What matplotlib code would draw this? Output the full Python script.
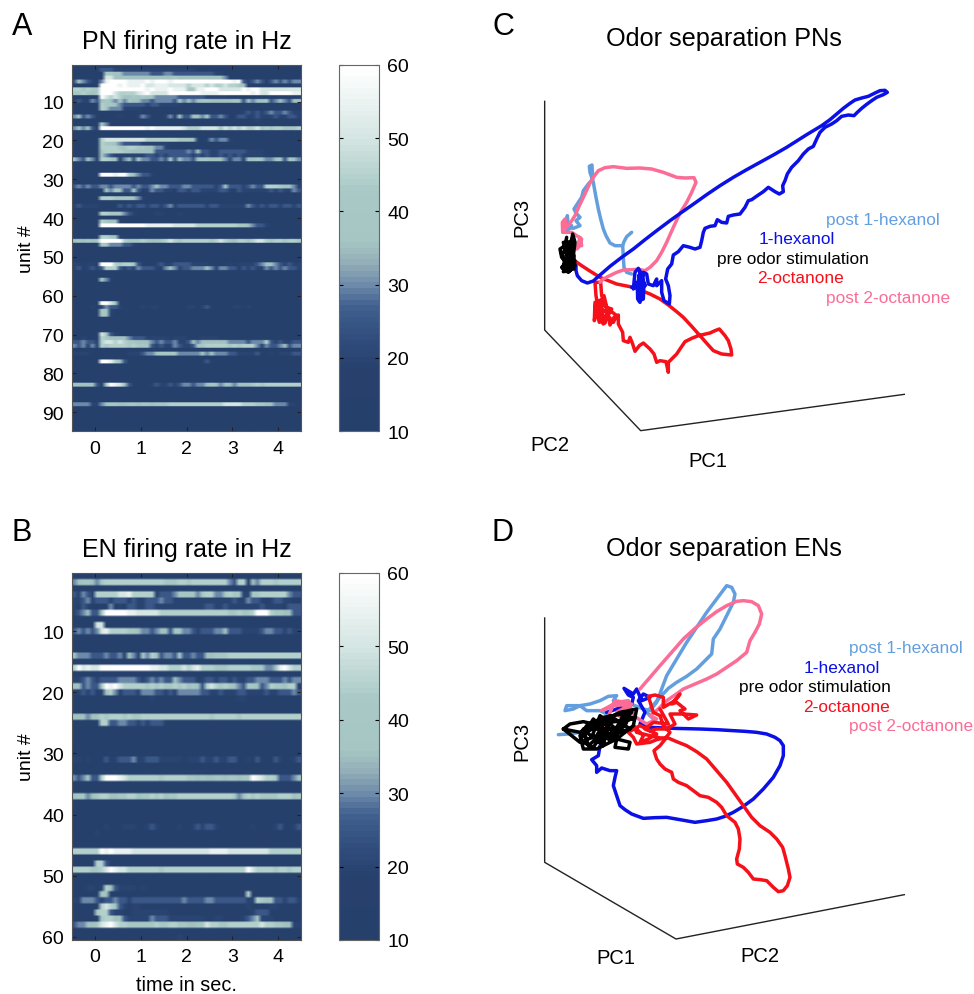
import numpy as np
import matplotlib
matplotlib.use("Agg")
import matplotlib.pyplot as plt
from matplotlib.colors import LinearSegmentedColormap

plt.rcParams["font.family"] = ["Liberation Sans", "DejaVu Sans"]

W, H = 974, 995

# colormap
cmap_rates = [10, 18, 22, 27, 30, 33, 36, 43, 50, 60]
cmap_colors = ["#26406c", "#27406c", "#2f4b7b", "#41608f", "#6f8cab",
               "#94afb9", "#a6c6c3", "#a9c9c6", "#d3e5e2", "#ffffff"]

# heat maps: unit -> one hex digit per 0.1 s bin from -0.5 s, rate = 10 + 5 * digit
pn_rows = {
    2: "00000033322222222222222222211111",
    3: "0000000665544444433344333333333220000000000000000",
    4: "0000000885555555555555655555555554000000000000000",
    5: "35432049aaaa9999a9aaa9aaaaaaaaaaaaa9a3234313434344",
    6: "000000aaaa9a999a889998888788878778776500000000000",
    7: "776766aaaaaaaaaa9a999a9996699aaa88888a9aa888888888",
    8: "667656aaa8777789a8888aaaaaaa9999aaaaaaa9a88aaaaa99",
    9: "000000a87875565655444443333332222210000000000000",
    10: "23224356546465544344443645456655555663545563454355",
    11: "000000766543333323322222100000000000000000000",
    12: "00000076444222200000000",
    13: "00000000000000000000000000000000000002323234334322",
    14: "45343000012110243111241533554633430133223222322332",
    15: "00000000000000000000000000000000000000012101",
    16: "00000064100000",
    17: "454530aaaaaaaaaa9a99999987778888687878778676776667",
    20: "00000078888888887777777666520243442100000000",
    21: "000000766543333222222111",
    22: "0000007777667766554421111111",
    23: "100110677776655555333333343533223333332222000",
    24: "00000064322222223323233333232322323232222200",
    25: "54354177650453644334363544356655542442556544563654",
    29: "000000aaa9aa75433201",
    30: "00000000000000000000001",
    32: "34343344344443433454433344333332353332343377765542",
    33: "00000005465336302433221332332222332132222223232243",
    35: "0000007776666542100",
    37: "23222200003232332332342333333233222222432323323323",
    39: "00000077666432100122011211",
    41: "000000765521",
    42: "000000aaaaaaaaaa999999888887777777776654332100",
    45: "0000007765210",
    46: "565656aaaaa766676556787677777767876577678876776776",
    47: "000000664443321",
    51: "0000000000000000000000001",
    52: "221220aaa76776311123223333222211112122223455432322",
    53: "23123237773232433321454233444542443313232243434332",
    56: "00000064211111111111111",
    62: "000000aa85100",
    63: "11002024332100121221111012202311110221201111",
    64: "00000066210",
    65: "00000066200",
    70: "0000008632100",
    71: "11211076555543332222212221112222111",
    72: "33433278878766555434334223545555554444344473232233",
    73: "43424276777767666323224322366777776767774243345344",
    75: "22221000001122234456666444445454443322223112122233",
    77: "000000aa975310000000000000000300000",
    83: "55555306a98531010232232344344565455455567677777777",
    88: "44442245665566566566677777777777788887776655444220",
}

en_rows = {
    2: "45665467777777777777666776777777774377054777677777",
    3: "11000000000000000000000000000000000000111",
    4: "32432777778897777723334666646774467662266777777433",
    5: "22342333233323223334332222222222222322433212332211",
    6: "21321111412133223322222222222332232222222322221333",
    7: "2345336aaaaa9988888777777777777777667667aaa7665533",
    8: "00000011100000000000",
    9: "00000880000000000",
    10: "34343489777766544345536644323334453332222344332322",
    14: "54443334334254264753443633433556667777777777777777",
    15: "00000000000000000000",
    16: "7a8988aaaaaaaaaaa99887778789777666777776664459a877",
    18: "22343233334444323434335433312332332322334443334344",
    19: "5534336a9a877777676766767565378767654366534766577",
    20: "22323025741333244433232444443322322233222232233343",
    21: "00000001100110111211001111111101111122111111",
    24: "55545576777676677777777777777767777767777777777777",
    25: "00000077334433232333110111110011100000",
    31: "22120013123334223332222212223223223311213111321123",
    34: "4346337aaa98777777767777766565566566566a9877633345",
    37: "56645677556677566767566777777777777645767666677756",
    38: "00000000000111000000000000001",
    42: "10111002111222112321111211232332111111121111231123",
    43: "0000020000000",
    46: "777777a9a99998888888888888888899998888888887777777",
    48: "0000077300000",
    49: "77776678a98877777776777777777777777777a87777677677",
    51: "00000000000000000000000000",
    52: "11122127532222121111111111111111111",
    53: "000000650000000000000000000000000000007",
    54: "22444323343323333333333343333443333333227655332332",
    55: "1111117875321221111111111111111111111121111221",
    56: "00000677322112222222211111111111111111123331111",
    57: "00000067755322222433322222222112211112345222111",
    58: "34455689a877666666766776655668776677777778776655222",
    59: "0000001111000000000000000000000000",
    60: "0000000000000000000000021000000",
}

# PN trajectories, projected onto the page
pn_hex = [(228, 590), (228, 605), (232, 620), (245, 635), (262, 642), (280, 636), (300, 618), (330, 592), (365, 565), (400, 540), (435, 512), (470, 485), (510, 455), (545, 430), (585, 402), (620, 377), (660, 350), (700, 325), (740, 302), (780, 280), (820, 258), (860, 235), (890, 216), (920, 197), (945, 182), (965, 170), (990, 152), (1010, 135), (1030, 118), (1050, 103), (1065, 93), (1085, 87), (1105, 82), (1125, 72), (1140, 65), (1155, 64), (1162, 70), (1150, 77), (1130, 85), (1115, 95), (1100, 106), (1085, 118), (1072, 130), (1062, 140), (1045, 138), (1025, 142), (1010, 155), (995, 165), (975, 175), (960, 190), (950, 210), (940, 232), (925, 240), (910, 255), (895, 275), (875, 295), (862, 315), (855, 335), (848, 350), (850, 368), (838, 375), (825, 368), (805, 355), (790, 368), (775, 378), (755, 392), (745, 395), (735, 415), (720, 435), (700, 438), (685, 442), (680, 462), (665, 460), (652, 452), (645, 470), (630, 472), (615, 478), (610, 490), (605, 515), (600, 535), (585, 540), (570, 535), (550, 530), (535, 548), (520, 558), (515, 585), (503, 600), (497, 630), (505, 650), (510, 680), (508, 705), (492, 695), (485, 670), (485, 635), (470, 650), (470, 630), (460, 650), (445, 645), (440, 615), (430, 610), (425, 650), (420, 700), (413, 690), (412, 650), (420, 610), (432, 640), (430, 690), (418, 695), (412, 640), (400, 660), (405, 610), (415, 598), (428, 620), (424, 680), (416, 620), (436, 650), (395, 655)]
pn_oct = [(228, 578), (245, 590), (265, 603), (300, 625), (350, 645), (400, 655), (450, 675), (480, 690), (505, 708), (530, 728), (550, 745), (575, 772), (600, 800), (622, 825), (640, 845), (665, 855), (695, 858), (693, 840), (685, 815), (675, 800), (658, 780), (645, 785), (630, 792), (595, 800), (575, 808), (555, 818), (540, 840), (530, 855), (515, 870), (505, 880), (505, 910), (498, 878), (480, 875), (470, 880), (462, 855), (450, 840), (430, 822), (418, 830), (405, 847), (398, 825), (390, 805), (385, 820), (370, 815), (368, 790), (355, 765), (355, 738), (342, 745), (330, 768), (322, 730), (315, 762), (305, 725), (298, 760), (288, 720), (283, 755), (285, 700), (310, 690), (300, 715), (325, 735), (312, 680), (295, 720), (288, 680), (285, 640), (302, 640), (305, 680), (320, 715), (335, 720), (310, 765), (295, 745), (292, 700), (312, 748), (328, 745), (340, 760), (350, 740), (306, 705), (300, 735), (284, 712)]
pn_post_hex = [(395, 490), (380, 503), (372, 518), (368, 530), (345, 530), (330, 522), (318, 500), (310, 480), (302, 450), (295, 420), (287, 380), (280, 340), (270, 310), (268, 292), (276, 288), (278, 330), (265, 345), (250, 365), (245, 385), (235, 400), (222, 420), (228, 432), (240, 445), (228, 455), (240, 470), (220, 478), (205, 475), (202, 440), (198, 490), (215, 470)]
pn_post_hex_tail = [(368, 530), (370, 565), (372, 595), (380, 610), (395, 615)]
pn_post_oct = [(245, 530), (240, 505), (230, 540), (240, 530), (245, 510), (215, 490), (188, 490), (187, 460), (195, 450), (197, 478), (212, 460), (225, 440), (237, 412), (250, 385), (270, 342), (282, 322), (295, 305), (315, 296), (340, 293), (380, 298), (420, 297), (455, 300), (490, 310), (530, 325), (555, 327), (582, 326), (588, 340), (575, 370), (560, 400), (540, 432), (520, 475), (500, 520), (485, 550), (470, 575), (450, 595), (435, 605), (415, 601), (395, 602), (370, 603), (350, 610), (325, 622), (310, 630), (300, 640)]
pn_pre = [(200, 505), (195, 530), (180, 540), (185, 565), (195, 575), (190, 600), (205, 610), (225, 590), (220, 560), (225, 520), (218, 495), (212, 530), (200, 515), (205, 560), (190, 590), (215, 600), (205, 575), (215, 545), (190, 550), (205, 530), (222, 560), (215, 590), (195, 605), (185, 595), (210, 570), (220, 530), (190, 520), (200, 560), (225, 575), (210, 605), (190, 608), (205, 590), (218, 570), (198, 545), (210, 520), (220, 505), (212, 560), (195, 585), (184, 550), (205, 600), (222, 600), (200, 570)]

# EN trajectories
en_hex = [(300, 530), (295, 560), (275, 572), (290, 590), (290, 610), (305, 597), (330, 605), (350, 605), (345, 625), (340, 650), (350, 680), (360, 710), (375, 722), (395, 735), (430, 748), (465, 746), (500, 745), (540, 752), (585, 760), (620, 755), (650, 750), (675, 742), (700, 730), (730, 712), (760, 690), (790, 660), (820, 625), (840, 590), (850, 560), (850, 530), (840, 515), (825, 505), (800, 495), (770, 490), (735, 487), (700, 485), (650, 482), (600, 480), (520, 478), (450, 475), (420, 465), (435, 430), (415, 395), (430, 375), (450, 385), (425, 395), (410, 360), (400, 375), (372, 358), (385, 378), (400, 385), (395, 405), (350, 420), (320, 430)]
en_oct = [(500, 505), (530, 518), (560, 530), (590, 548), (620, 570), (650, 605), (680, 640), (705, 675), (730, 710), (755, 745), (780, 770), (810, 790), (830, 810), (848, 835), (855, 860), (865, 900), (870, 925), (862, 950), (850, 965), (835, 968), (820, 955), (800, 935), (780, 932), (760, 930), (745, 910), (730, 895), (712, 885), (710, 870), (718, 840), (720, 810), (715, 780), (705, 760), (680, 740), (665, 715), (650, 700), (625, 685), (600, 680), (580, 665), (560, 650), (535, 640), (520, 630), (515, 610), (495, 600), (480, 585), (470, 570), (462, 545), (480, 530), (500, 505), (470, 512), (450, 520), (410, 525), (400, 505), (385, 490), (405, 478), (420, 470), (450, 485), (470, 480), (500, 480), (525, 465), (510, 435), (550, 435), (590, 438), (565, 450), (540, 425), (555, 420), (530, 400), (515, 405), (540, 375), (525, 395), (490, 415), (490, 385), (465, 378), (445, 382), (460, 430), (480, 440), (490, 470), (510, 490), (495, 510), (450, 500), (410, 490), (400, 470), (430, 500), (420, 520), (445, 510), (470, 495), (435, 480), (460, 460), (505, 465), (480, 420)]
en_post_hex = [(175, 497), (205, 495), (240, 490), (290, 470), (330, 440), (300, 425), (260, 425), (240, 410), (220, 420), (195, 425), (200, 410), (240, 410), (270, 405), (300, 395), (325, 382), (350, 380), (340, 395), (380, 400), (430, 420), (450, 425), (470, 400), (485, 360), (500, 320), (530, 270), (560, 220), (590, 175), (620, 130), (650, 90), (680, 50), (695, 55), (705, 75), (700, 100), (680, 140), (660, 180), (640, 210), (635, 255), (610, 280), (590, 300), (560, 322), (530, 340), (505, 358), (480, 385), (440, 430), (460, 450)]
en_post_oct = [(420, 360), (450, 325), (480, 290), (515, 250), (550, 210), (585, 178), (620, 150), (650, 128), (680, 110), (710, 97), (730, 95), (755, 98), (775, 110), (785, 135), (778, 165), (765, 190), (750, 215), (740, 250), (710, 275), (680, 295), (650, 315), (620, 330), (585, 345), (550, 360), (525, 378), (500, 395), (475, 420), (450, 440), (470, 450), (440, 465), (400, 440), (385, 395), (350, 400), (305, 425), (340, 410), (395, 405), (350, 430), (380, 470), (320, 480), (300, 500), (345, 395), (385, 415)]
en_pre = [(190, 480), (210, 465), (250, 458), (280, 465), (240, 490), (190, 480), (240, 520), (290, 500), (320, 450), (360, 430), (410, 420), (400, 470), (350, 510), (390, 520), (385, 540), (345, 535), (350, 510), (290, 540), (250, 540), (240, 500), (260, 470), (300, 450), (350, 500), (370, 430), (400, 450), (330, 460), (280, 535), (240, 515), (280, 450), (340, 510), (380, 460), (300, 520), (340, 440), (260, 490), (310, 530), (330, 440), (390, 480), (320, 500), (275, 505), (300, 440), (360, 490), (305, 495), (265, 530), (250, 480), (345, 480), (375, 445), (330, 515), (285, 470), (310, 445), (395, 430), (355, 465), (405, 445)]

pn_axis = [(134, 97), (134, 783), (422, 1085), (1213, 976)]
en_axis = [(134, 147), (134, 880), (528, 1110), (1213, 977)]

light_blue = "#639fdf"
blue = "#0a10e6"
red = "#f5101a"
pink = "#fb6c96"


def rect(left, top, right, bottom):
    return [left / W, 1 - bottom / H, (right - left) / W, (bottom - top) / H]


def rows_to_matrix(rows, n_units):
    m = np.zeros((n_units, 50))
    for unit, digits in rows.items():
        for i, c in enumerate(digits[:50]):
            m[unit - 1, i] = 10 + 5 * int(c, 16)
    # repeat each row so the smoothing only softens its edges
    return np.repeat(m, 3, axis=0)


cm = LinearSegmentedColormap.from_list(
    "firing", [((r - 10) / 50, c) for r, c in zip(cmap_rates, cmap_colors)], N=64)

fig = plt.figure(figsize=(W / 100, H / 100), dpi=100)


def heat_panel(rows, n_units, top, bottom, ymax, yticks, title):
    ax = fig.add_axes(rect(72.3, top, 300.7, bottom))
    im = ax.imshow(rows_to_matrix(rows, n_units), cmap=cm, vmin=10, vmax=60, aspect="auto",
                   extent=[-0.5, 4.5, n_units + 0.5, 0.5], interpolation="bilinear",
                   interpolation_stage="rgba")
    ax.set_xlim(-0.5, 4.5)
    ax.set_ylim(ymax, 0.5)
    ax.set_xticks([0, 1, 2, 3, 4])
    ax.set_yticks(yticks)
    ax.tick_params(direction="in", top=True, right=True, length=3, width=0.8,
                   labelsize=14, pad=6, color="#222222")
    ax.set_ylabel("unit #", fontsize=14, labelpad=5)
    ax.set_title(title, fontsize=18, pad=12)
    for s in ax.spines.values():
        s.set_linewidth(0.8)
        s.set_color("#555555")
    cax = fig.add_axes(rect(339, top, 378.7, bottom))
    cb = fig.colorbar(im, cax=cax, ticks=[10, 20, 30, 40, 50, 60])
    cax.tick_params(direction="in", left=True, right=True, length=3, width=0.8,
                    labelsize=14, pad=6)
    cb.outline.set_linewidth(0.8)
    cb.outline.set_edgecolor("#666666")
    return ax


ax_a = heat_panel(pn_rows, 95, 65.7, 432.3, 94.9, range(10, 91, 10), "PN firing rate in Hz")
ax_b = heat_panel(en_rows, 60, 574, 941, 60.5, range(10, 61, 10), "EN firing rate in Hz")
ax_b.set_xlabel("time in sec.", fontsize=14.3, labelpad=7)


def traj_panel(top, axis_pts, lines, labels, pc_labels, title_y, title):
    ax = fig.add_axes(rect(500, top, 974, top + 400))
    ax.set_xlim(0, 1422)
    ax.set_ylim(1200, 0)
    ax.axis("off")
    ax.plot(*zip(*axis_pts), color="#222222", lw=1.0)
    for pts, c, lw in lines:
        ax.plot(*zip(*pts), color=c, lw=lw, solid_joinstyle="round", solid_capstyle="round")
    for txt, x, y, c in labels:
        ax.text(x, y, txt, color=c, fontsize=12.4, va="center", ha="left")
    for txt, x, y, rot in pc_labels:
        ax.text(x, y, txt, fontsize=14.5, va="center", ha="center", rotation=rot, clip_on=False)
    fig.text(724 / W, 1 - title_y / H, title, fontsize=18.2, ha="center", va="center")


traj_panel(70, pn_axis,
           [(pn_oct, red, 2.5), (pn_post_hex, light_blue, 2.5), (pn_post_hex_tail, light_blue, 2.5),
            (pn_post_oct, pink, 2.5), (pn_hex, blue, 2.5), (pn_pre, "black", 2.5)],
           [("post 1-hexanol", 978, 450, light_blue), ("1-hexanol", 775, 508, blue),
            ("pre odor stimulation", 650, 567, "black"), ("2-octanone", 772, 626, red),
            ("post 2-octanone", 978, 684, pink)],
           [("PC3", 67, 443, 90), ("PC2", 151, 1125, 0), ("PC1", 624, 1175, 0)],
           39, "Odor separation PNs")

traj_panel(570, en_axis,
           [(en_post_hex, light_blue, 2.5), (en_hex, blue, 2.5), (en_post_oct, pink, 2.5),
            (en_oct, red, 2.5), (en_pre, "black", 2.5)],
           [("post 1-hexanol", 1047, 237, light_blue), ("1-hexanol", 912, 295, blue),
            ("pre odor stimulation", 718, 353, "black"), ("2-octanone", 910, 412, red),
            ("post 2-octanone", 1047, 470, pink)],
           [("PC3", 67, 515, 90), ("PC1", 347, 1165, 0), ("PC2", 780, 1160, 0)],
           549, "Odor separation ENs")

for letter, x, y in [("A", 22, 27), ("B", 22, 533), ("C", 503, 27), ("D", 503, 533)]:
    fig.text(x / W, 1 - y / H, letter, fontsize=22, ha="center", va="center")

fig.savefig("out.png", dpi=100)
plt.close(fig)
